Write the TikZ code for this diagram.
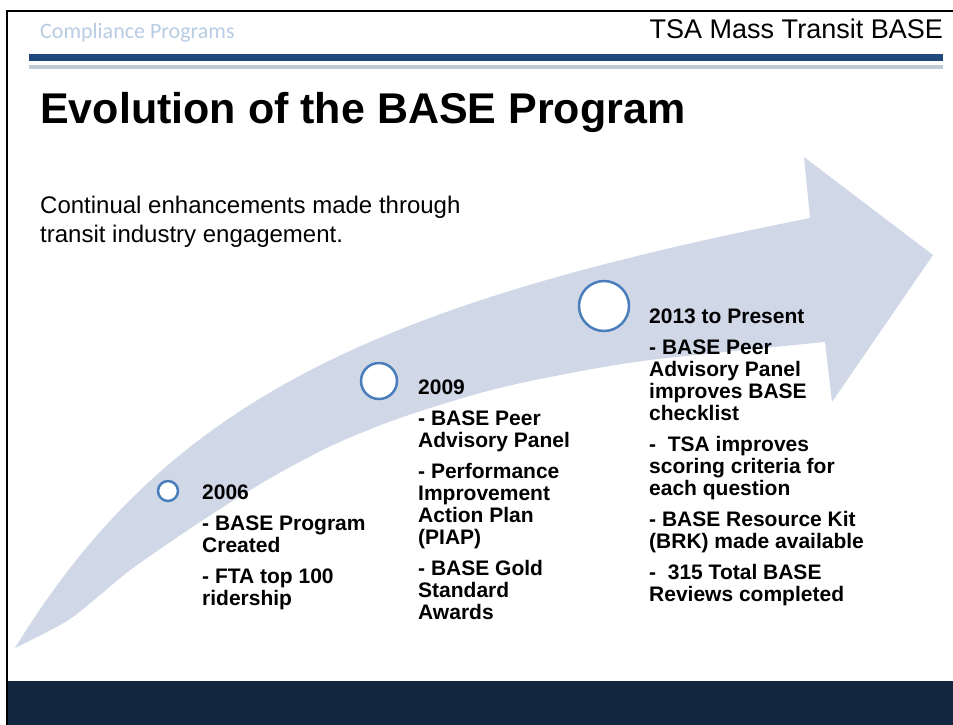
\documentclass[tikz,border=0pt]{standalone}
\usepackage{fontspec}
\setmainfont{Liberation Sans}
\newfontfamily\calibfont{Carlito}
\definecolor{arrowfill}{RGB}{208,216,232}
\definecolor{ringblue}{RGB}{74,126,187}
\definecolor{barblue}{RGB}{31,73,125}
\definecolor{shadowgray}{RGB}{192,201,214}
\definecolor{navyband}{RGB}{18,38,63}
\definecolor{lightblue}{RGB}{184,204,228}
\newcommand\tlgap{\par\vspace{9pt}}
\begin{document}
\begin{tikzpicture}[x=1pt,y=-1pt,
  ring/.style={draw=ringblue, line width=2.5pt, fill=white},
  tltext/.style={anchor=base west, inner sep=0pt, font=\bfseries\fontsize{21}{22}\selectfont},
  plain/.style={anchor=base west, inner sep=0pt}
]
\useasboundingbox (0,0) rectangle (953,724);
\fill[white] (-2,-2) rectangle (956,727);
% frame
\draw[line width=2pt, black] (6.5,727) -- (6.5,10.5) -- (956,10.5);
% header bars
\fill[barblue] (29,54) rectangle (943,61);
\fill[shadowgray] (29,64.5) rectangle (943,68.5);
% bottom band
\fill[navyband] (7.5,681) rectangle (956,727);
% header texts
\node[plain, text=lightblue, font=\calibfont\fontsize{22}{26}\selectfont] (hdrl) at (40,38) {Compliance Programs};
\node[anchor=base east, inner sep=0pt, font=\fontsize{27}{32}\selectfont] (hdrr) at (943,38) {TSA Mass Transit BASE};
\node[plain, font=\bfseries\fontsize{43}{50}\selectfont] (title) at (40,123) {Evolution of the BASE Program};
\node[plain, font=\fontsize{24}{29}\selectfont] (intro) at (40,213) {\parbox[t]{500pt}{Continual enhancements made through\\transit industry engagement.}};
% arrow
\fill[arrowfill] (15,648) .. controls (168,398) and (378,304) .. (810,218)
  -- (804,157) -- (933,255) -- (832,402) -- (825,342)
  -- plot[smooth, tension=0.5] coordinates {(825,342) (650,360) (550,377) (480,393) (400,418) (333,445) (267,480) (200,522) (133,568) (100,595) (67,621) (15,648)} -- cycle;
% rings
\draw[ring] (168,491) circle (10);
\draw[ring] (379,381) circle (18);
\draw[ring] (604,306) circle (25);
% timeline texts
\node[tltext] (t2006) at (202,499) {\parbox[t]{250pt}{\raggedright 2006\tlgap - BASE Program\\Created\tlgap - FTA top 100\\ridership}};
\node[tltext] (t2009) at (418,394) {\parbox[t]{250pt}{\raggedright 2009\tlgap - BASE Peer\\Advisory Panel\tlgap - Performance\\Improvement\\Action Plan\\(PIAP)\tlgap - BASE Gold\\Standard\\Awards}};
\node[tltext] (t2013) at (649,323) {\parbox[t]{280pt}{\raggedright 2013 to Present\tlgap - BASE Peer\\Advisory Panel\\improves BASE\\checklist\tlgap -\ \ TSA improves\\scoring criteria for\\each question\tlgap - BASE Resource Kit\\(BRK) made available\tlgap -\ \ 315 Total BASE\\Reviews completed}};
\end{tikzpicture}
\end{document}
